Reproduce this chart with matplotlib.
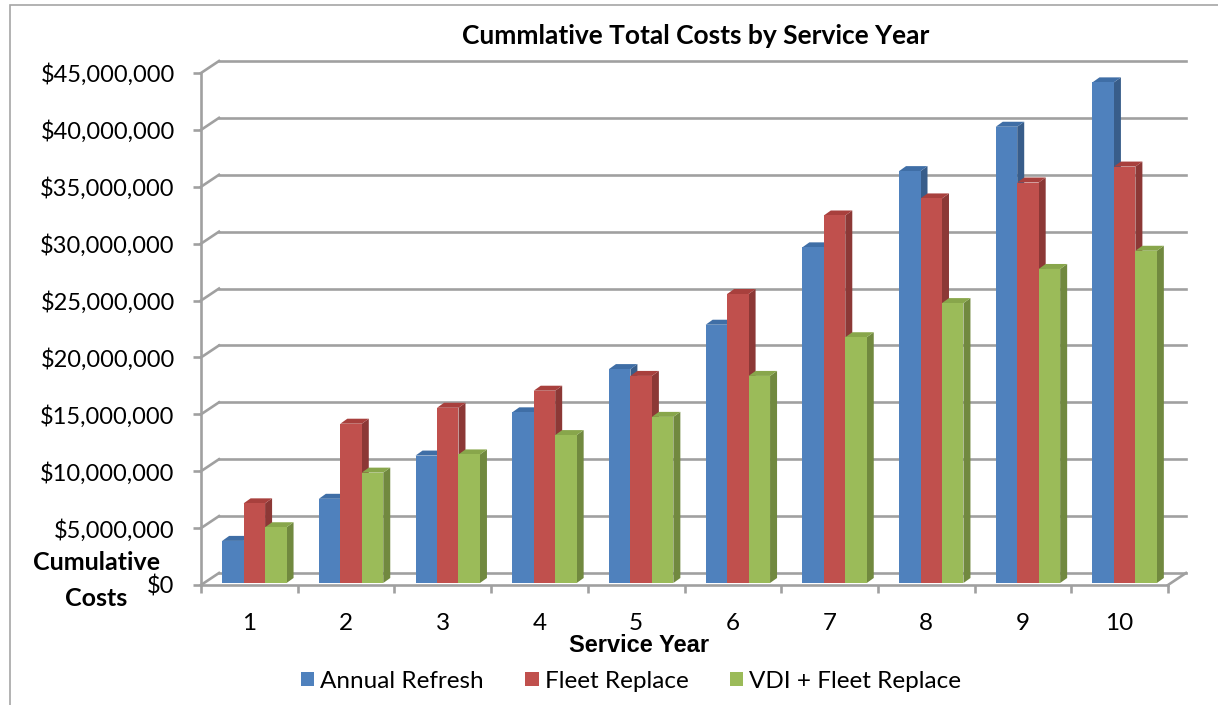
import matplotlib
matplotlib.use("Agg")
import matplotlib.pyplot as plt
import matplotlib.transforms as mtransforms
from matplotlib.patches import Polygon, Rectangle
from matplotlib.ticker import FuncFormatter

# ---- data (millions of $) ----
years = [1, 2, 3, 4, 5, 6, 7, 8, 9, 10]
annual_refresh = [3.7, 7.4, 11.2, 15.0, 18.8, 22.7, 29.5, 36.2, 40.1, 44.0]
fleet_replace = [7.0, 14.0, 15.4, 16.9, 18.2, 25.4, 32.3, 33.8, 35.2, 36.6]
vdi_fleet = [4.9, 9.7, 11.3, 13.0, 14.6, 18.2, 21.6, 24.6, 27.6, 29.2]
series_names = ["Annual Refresh", "Fleet Replace", "VDI + Fleet Replace"]
y_ticks = [0, 5, 10, 15, 20, 25, 30, 35, 40, 45]

FRONT = ["#4F81BD", "#C0504D", "#9BBB59"]
SIDE = ["#385D8A", "#8C3836", "#71893F"]
TOP = ["#3F6EA6", "#A8403D", "#88A64B"]
GRID = "#A0A0A0"
FONT = ["Lato", "DejaVu Sans"]

W, H = 1218, 705
fig = plt.figure(figsize=(W / 100, H / 100), dpi=100)
# front plane of the 3D box: x 201..1168 px, y 585..73 px (from top)
ax = fig.add_axes([201 / W, (H - 585) / H, (1168 - 201) / W, (585 - 73) / H])
ax.set_xlim(0.5, 10.5)
ax.set_ylim(0, 45)
ax.patch.set_visible(False)

for s in ("top", "right"):
    ax.spines[s].set_visible(False)
for s in ("left", "bottom"):
    ax.spines[s].set_color(GRID)
    ax.spines[s].set_linewidth(1.9)

ax.set_yticks(y_ticks)
ax.yaxis.set_major_formatter(FuncFormatter(lambda v, p: f"${v * 1e6:,.0f}"))
ax.tick_params(axis="y", length=6, width=1.9, color=GRID, pad=13,
               labelsize=17, labelcolor="#000000")
ax.set_xticks(years)
ax.set_xticklabels([str(y) for y in years])
ax.set_xticks([y + 0.5 for y in [0] + years], minor=True)
ax.tick_params(axis="x", which="major", length=0, pad=20, labelsize=17.5)
ax.tick_params(axis="x", which="minor", length=6, width=1.9, color=GRID)
for lab in ax.get_xticklabels() + ax.get_yticklabels():
    lab.set_family(FONT)

# depth offsets (pixels)
BACK_DX, BACK_DY = 18, 12
BAR_DX, BAR_DY = 5, 2
SIDE_DX, SIDE_DY = 7, 5

ident = mtransforms.IdentityTransform()


def px(x, y):
    return ax.transData.transform((x, y))


# back wall gridlines and left-wall diagonals
for t in y_ticks:
    x0, y0 = px(0.5, t)
    x1, _ = px(10.5, t)
    ax.add_line(plt.Line2D([x0 + BACK_DX, x1 + BACK_DX], [y0 + BACK_DY, y0 + BACK_DY],
                           transform=ident, color=GRID, lw=1.9, clip_on=False, zorder=1))
    ax.add_line(plt.Line2D([x0, x0 + BACK_DX], [y0, y0 + BACK_DY],
                           transform=ident, color=GRID, lw=1.9, clip_on=False, zorder=1))
# floor right edge
xr, yr = px(10.5, 0)
ax.add_line(plt.Line2D([xr, xr + BACK_DX], [yr, yr + BACK_DY], transform=ident,
                       color=GRID, lw=1.9, clip_on=False, zorder=1))

# 3D-looking bars
bw = 0.222
series = [annual_refresh, fleet_replace, vdi_fleet]
for yi, yr_ in enumerate(years):
    for si, vals in enumerate(series):
        xl = yr_ + (si - 1.5) * bw
        (ax0, ay0) = px(xl, 0)
        (ax1, ay1) = px(xl + bw, vals[yi])
        ax0 += BAR_DX; ax1 += BAR_DX; ay0 += BAR_DY; ay1 += BAR_DY
        side = [(ax1, ay0), (ax1 + SIDE_DX, ay0 + SIDE_DY),
                (ax1 + SIDE_DX, ay1 + SIDE_DY), (ax1, ay1)]
        top = [(ax0, ay1), (ax1, ay1), (ax1 + SIDE_DX, ay1 + SIDE_DY),
               (ax0 + SIDE_DX, ay1 + SIDE_DY)]
        front = [(ax0, ay0), (ax1, ay0), (ax1, ay1), (ax0, ay1)]
        z = 3 + yi * 0.1 + si * 0.01
        for verts, col in ((side, SIDE[si]), (top, TOP[si]), (front, FRONT[si])):
            ax.add_patch(Polygon(verts, closed=True, transform=ident, facecolor=col,
                                 edgecolor="none", clip_on=False, zorder=z))

# texts
fig.text(696 / W, 1 - 36 / H, "Cummlative Total Costs by Service Year", ha="center",
         va="center", fontsize=19, fontweight="bold", family=FONT)
fig.text(639 / W, 1 - 645 / H, "Service Year", ha="center", va="center",
         fontsize=17, fontweight="bold", family=["Liberation Sans", "DejaVu Sans"])
fig.text(97 / W, 1 - 562 / H, "Cumulative", ha="center", va="center",
         fontsize=18, fontweight="bold", family=FONT)
fig.text(96 / W, 1 - 598 / H, "Costs", ha="center", va="center",
         fontsize=18, fontweight="bold", family=FONT)

# legend
handles = [Rectangle((0, 0), 1, 1, facecolor=c, edgecolor="none") for c in FRONT]
fig.legend(handles, series_names, loc="center", bbox_to_anchor=(631 / W, 1 - 681 / H),
           ncol=3, frameon=False, handlelength=0.55, handleheight=0.55,
           handletextpad=0.25, columnspacing=1.7, prop={"family": FONT, "size": 17.5})

# outer frame
fig.add_artist(Rectangle((10 / W, -0.01), 1.2, 1 - 5 / H + 0.01, transform=fig.transFigure,
                         facecolor="none", edgecolor="#A6A6A6", lw=1.2))

fig.savefig("out.png", dpi=100)
